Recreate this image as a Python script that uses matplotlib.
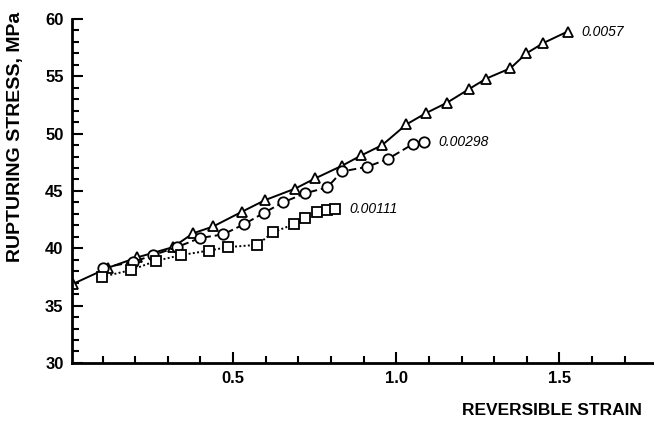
import matplotlib.pyplot as plt
from matplotlib.ticker import MultipleLocator, FixedLocator

plt.rcParams['font.family'] = ['Liberation Sans Narrow', 'Liberation Sans', 'DejaVu Sans']

# strain rate 0.0057 (triangles, solid)
tri_x = [0.01, 0.117, 0.206, 0.316, 0.377, 0.439, 0.528, 0.598, 0.690, 0.752, 0.834,
         0.893, 0.957, 1.031, 1.092, 1.156, 1.224, 1.276, 1.350, 1.399, 1.451, 1.525]
tri_y = [36.9, 38.3, 39.2, 40.1, 41.3, 41.9, 43.2, 44.2, 45.2, 46.1, 47.2,
         48.1, 49.0, 50.8, 51.8, 52.7, 53.9, 54.8, 55.7, 57.0, 57.9, 58.9]

# strain rate 0.00298 (circles, dashed)
cir_x = [0.101, 0.193, 0.255, 0.328, 0.399, 0.469, 0.534, 0.595, 0.653, 0.721,
         0.788, 0.834, 0.911, 0.975, 1.052, 1.086]
cir_y = [38.3, 38.8, 39.4, 40.1, 40.9, 41.2, 42.1, 43.1, 44.0, 44.8,
         45.3, 46.7, 47.1, 47.8, 49.1, 49.3]

# strain rate 0.00111 (squares, dotted)
sq_x = [0.098, 0.187, 0.264, 0.340, 0.426, 0.485, 0.574, 0.623, 0.687, 0.721,
        0.758, 0.788, 0.813]
sq_y = [37.5, 38.1, 38.9, 39.4, 39.8, 40.1, 40.3, 41.4, 42.1, 42.6,
        43.2, 43.3, 43.4]

rates = ['0.0057', '0.00298', '0.00111']

fig = plt.figure(figsize=(6.54, 4.21), dpi=100)
ax = fig.add_axes([0.110, 0.138, 0.890, 0.817])

mk = dict(mfc='white', mec='black', mew=1.3, ms=7.5, color='black', lw=1.4)
ax.plot(tri_x, tri_y, ls='-', marker='^', **mk)
ax.plot(cir_x, cir_y, ls=(0, (4, 2)), marker='o', **mk)
ax.plot(sq_x, sq_y, ls=(0, (1, 1.2)), marker='s', **mk)

for xs, ys, r in zip([tri_x, cir_x, sq_x], [tri_y, cir_y, sq_y], rates):
    ax.annotate(r, xy=(xs[-1], ys[-1]), xytext=(10, 0), textcoords='offset points',
                fontsize=10, style='italic', va='center', ha='left')

ax.set_xlim(0.006, 1.79)
ax.set_ylim(30, 60)

ax.spines['top'].set_visible(False)
ax.spines['right'].set_visible(False)
ax.spines['left'].set_linewidth(2)
ax.spines['bottom'].set_linewidth(2)

ax.xaxis.set_major_locator(FixedLocator([0.5, 1.0, 1.5]))
ax.xaxis.set_minor_locator(FixedLocator([0.1, 0.2, 0.3, 0.4, 0.6, 0.7, 0.8, 0.9,
                                         1.1, 1.2, 1.3, 1.4, 1.6, 1.7]))
ax.xaxis.set_major_formatter(plt.FuncFormatter(lambda v, p: f'{v:.1f}'))
ax.yaxis.set_major_locator(MultipleLocator(5))
ax.yaxis.set_minor_locator(MultipleLocator(1))

ax.tick_params(which='both', direction='in', width=1.5, labelsize=12)
ax.tick_params(which='major', length=8, pad=6)
ax.tick_params(which='minor', length=5)
for lab in ax.get_xticklabels() + ax.get_yticklabels():
    lab.set_fontweight('bold')

fig.text(0.706, 0.026, 'REVERSIBLE STRAIN', fontsize=12.5, fontweight='bold',
         ha='left', va='center')
fig.text(0.023, 0.675, 'RUPTURING STRESS, MPa', fontsize=14, fontweight='bold',
         rotation=90, ha='center', va='center')

fig.savefig('out.png', dpi=100)
